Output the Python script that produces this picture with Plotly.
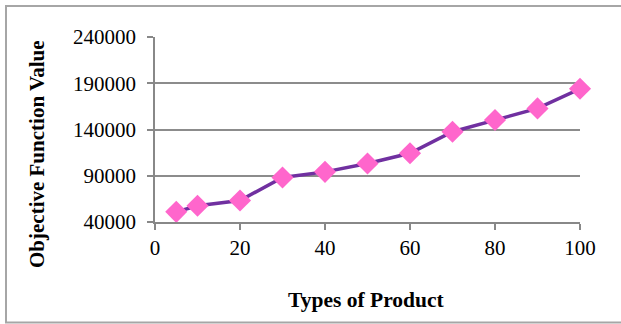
import plotly.graph_objects as go

# Objective function value by number of product types
product_types = [5, 10, 20, 30, 40, 50, 60, 70, 80, 90, 100]
objective_values = [51000, 57600, 63300, 88100, 94200, 103200, 114300, 137600, 150200, 162800, 184000]

x_ticks = [0, 20, 40, 60, 80, 100]
y_ticks = [40000, 90000, 140000, 190000, 240000]

W, H = 621, 324
L, R, T, B = 155, 41, 37, 102
pw, ph = W - L - R, H - T - B


def px_x(p):
    return (p - L) / pw


def px_y(p):
    return (H - B - p) / ph


fig = go.Figure()
fig.add_trace(go.Scatter(
    x=product_types,
    y=objective_values,
    mode="lines+markers",
    line=dict(color="#7030A0", width=3.5),
    marker=dict(symbol="diamond", size=17, color="#FF66CC",
                line=dict(color="#FF66CC", width=0)),
    showlegend=False,
    cliponaxis=False,
))

font_family = "Liberation Serif, Times New Roman, serif"

fig.update_layout(
    width=W, height=H,
    margin=dict(l=L, r=R, t=T, b=B, pad=0),
    paper_bgcolor="white",
    plot_bgcolor="white",
    font=dict(family=font_family, size=21, color="black"),
    xaxis=dict(
        range=[0, 100],
        tickvals=x_ticks,
        ticks="outside", ticklen=6, tickwidth=1.5, tickcolor="#888888",
        showgrid=False,
        showline=True, linecolor="#888888", linewidth=1.5,
        zeroline=False,
        tickfont=dict(size=21, family=font_family),
    ),
    yaxis=dict(
        range=[40000, 240000],
        tickvals=y_ticks,
        tickformat="d",
        ticks="outside", ticklen=6, tickwidth=1.5, tickcolor="#888888",
        showgrid=True, gridcolor="#8C8C8C", gridwidth=1.5,
        showline=True, linecolor="#888888", linewidth=1.5,
        zeroline=False,
        tickfont=dict(size=21, family=font_family),
        ticklabelstandoff=7,
    ),
    annotations=[
        dict(text="<b>Types of Product</b>", xref="paper", yref="paper",
             x=px_x(366), y=px_y(300), xanchor="center", yanchor="middle",
             showarrow=False, font=dict(size=21.5, family=font_family)),
        dict(text="<b>Objective Function Value</b>", xref="paper", yref="paper",
             x=px_x(37), y=px_y(154), xanchor="center", yanchor="middle",
             textangle=-90, showarrow=False, font=dict(size=21, family=font_family)),
    ],
    shapes=[
        dict(type="rect", xref="paper", yref="paper",
             x0=px_x(6), x1=px_x(640), y0=px_y(322.5), y1=px_y(6),
             line=dict(color="#A6A6A6", width=2), fillcolor="rgba(0,0,0,0)", layer="below"),
    ],
)

fig.write_html("out.html")
